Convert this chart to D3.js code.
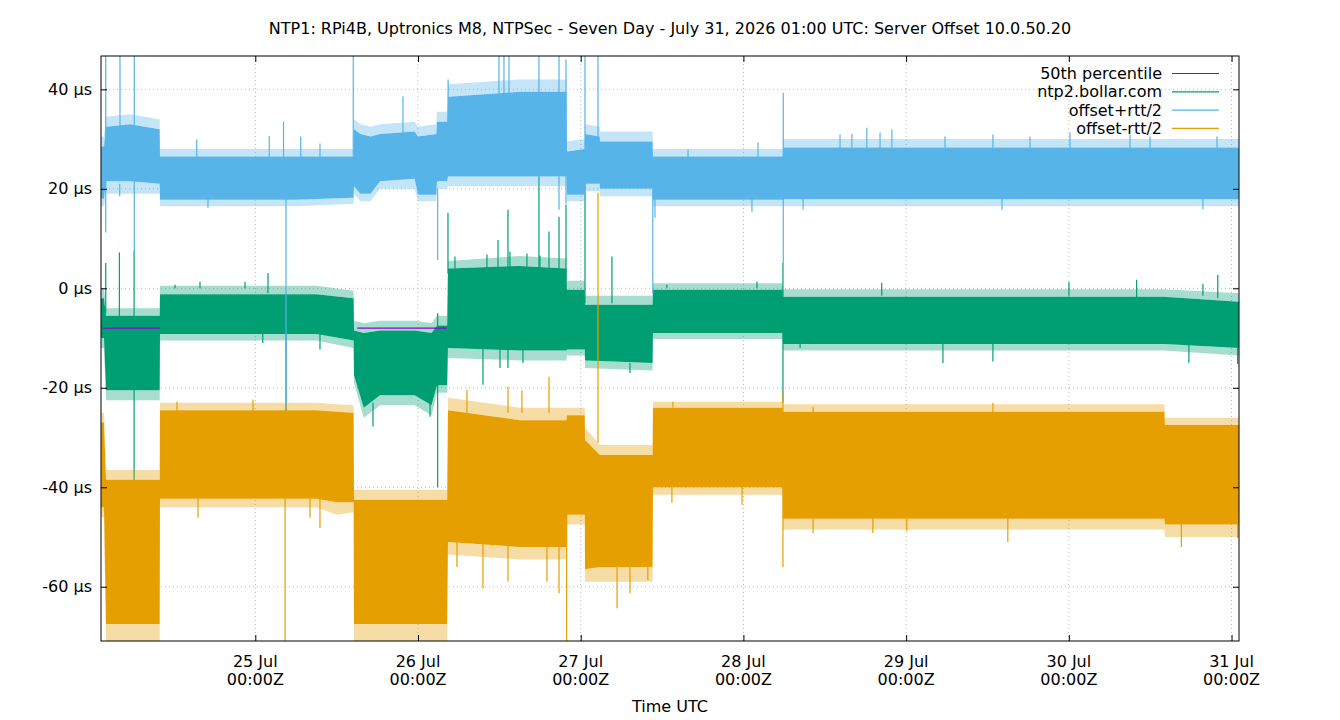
<!DOCTYPE html>
<html>
<head>
<meta charset="utf-8">
<script src="https://cdnjs.cloudflare.com/ajax/libs/d3/7.8.5/d3.min.js"></script>
<style>
  body { margin: 0; background: #fff; }
  svg { font-family: "DejaVu Sans", sans-serif; font-size: 16px; }
</style>
</head>
<body>
<script>
// times are hours after 24 Jul 2026 00:00 UTC
var startHour = 1.24, endHour = 169.1;
var yMin = -70.9, yMax = 46.7;
var yTicks = [-60, -40, -20, 0, 20, 40];
var titleText = "NTP1: RPi4B, Uptronics M8, NTPSec - Seven Day - July 31, 2026 01:00 UTC: Server Offset 10.0.50.20";
var seriesNames = ["50th percentile", "ntp2.bollar.com", "offset+rtt/2", "offset-rtt/2"];
var seriesColors = ["#9400d3", "#009e73", "#56b4e9", "#e69f00"];

// 50th percentile (only present in two stretches)
var pct50 = [[1.55, -8], [9.94, -8], [9.95, null], [39.0, null], [39.05, -8], [52.27, -8]];

// noisy series read as envelopes: [hour, outer low, low, high, outer high] in µs
var ntp2Band = [
  [1.24, -12, -10, -2, 0], [1.68, -12, -10, -2, 0],
  [1.98, -22.5, -20.5, -5.5, -4], [9.9, -22.5, -20.5, -5.5, -4],
  [9.94, -10.5, -9.2, -1.2, 0.5], [33, -10.5, -9.2, -1.2, 0.5], [38.5, -12, -10.5, -2, -0.5],
  [38.56, -19, -17.5, -8.5, -6.5], [40, -26, -24, -9, -7], [42.4, -23.5, -21.5, -8.5, -6.5],
  [47.5, -23.5, -21.5, -8.5, -6.5], [50, -25.5, -23.5, -9, -7],
  [50.8, -21, -19.5, -7.5, -5.5], [52.3, -21, -19.5, -7.5, -5.5],
  [52.42, -14, -12, 4, 5.5], [63, -14.5, -12.5, 4.5, 6.5], [69.9, -14.5, -12.5, 4, 6],
  [69.97, -13.5, -12.3, -0.3, 1.5], [72.6, -13.5, -12.3, -0.3, 1.5],
  [72.63, -16, -14.5, -3.3, -1.5], [82.6, -16.5, -15, -3.3, -1.5],
  [82.66, -10.2, -9, -0.3, 1], [101.8, -10.2, -9, -0.3, 1],
  [101.83, -12.5, -11.2, -1.7, -0.2], [158, -12.5, -11.2, -1.7, -0.2], [169.1, -13.5, -12, -2.7, -1]
];
var plusBand = [
  [1.24, 16.5, 18, 28.5, 30.5], [1.68, 16.5, 18, 28.5, 30.5],
  [1.98, 19, 21.5, 32.5, 34.5], [5.5, 19, 21.5, 33, 35], [9.9, 19, 21, 32, 34],
  [9.94, 16.5, 17.8, 26.5, 28], [20, 16.5, 17.8, 26.5, 28], [30, 16.5, 17.8, 26.5, 28], [38.5, 17, 18.2, 26.5, 28],
  [38.56, 19, 20.5, 32, 34], [39.5, 17.5, 19, 31, 33], [41, 17.5, 19, 30.5, 32.5],
  [42.4, 20, 21.5, 31, 33], [47.5, 20, 22, 31.5, 33.5], [48.0, 17.5, 18.8, 30.5, 32.5],
  [50.7, 17.5, 18.8, 31, 33], [50.8, 20, 21.5, 33.5, 35.5], [52.3, 20, 21.5, 33.5, 35.5],
  [52.42, 20.5, 22.5, 38.5, 41], [63, 20.5, 22.5, 39.5, 42], [69.9, 20.5, 22.5, 39.5, 42],
  [69.97, 17.5, 18.8, 27.5, 29.5], [72.6, 17.5, 18.8, 28, 30],
  [72.63, 19.5, 21, 31, 33], [74.8, 19.5, 21, 30.5, 32.5],
  [74.84, 18.5, 20, 29.5, 31.5], [82.6, 18.5, 20, 29.5, 31.5],
  [82.66, 16.5, 17.8, 26.5, 28], [101.8, 16.5, 17.8, 26.5, 28],
  [101.83, 16.5, 17.9, 28.3, 30], [169.1, 16.5, 17.9, 28.3, 30]
];
var minusBand = [
  [1.24, -46, -44, -27, -25], [1.68, -46, -44, -27, -25],
  [1.98, -70.9, -67.5, -38.5, -36.5], [9.9, -70.9, -67.5, -38.5, -36.5],
  [9.94, -44, -42.3, -24.5, -23], [33, -44, -42.3, -24.5, -23], [36, -45.5, -43, -24.8, -23.3], [38.5, -45, -43, -25, -23.5],
  [38.56, -70.9, -67.5, -42.5, -40.5], [52.3, -70.9, -67.5, -42.5, -40.5],
  [52.42, -53.5, -51, -24.5, -22], [63, -54.5, -52, -26.5, -24], [69.9, -54.5, -52, -26.5, -24],
  [69.97, -47.5, -45.5, -25.5, -24], [72.6, -47.5, -45.5, -25.5, -24],
  [72.63, -59, -56.5, -30.5, -28], [74.84, -59, -56, -33.5, -31.5], [82.6, -59, -56, -33.5, -31.5],
  [82.66, -41.5, -40, -24, -22.8], [101.8, -41.5, -40, -24, -22.8],
  [101.83, -48.5, -46.3, -24.8, -23.3], [158.1, -48.5, -46.3, -24.8, -23.3],
  [158.17, -50, -47.5, -27.5, -26], [169.1, -50, -47.5, -27.5, -26]
];

// single outliers: [hour, from, to] in µs
var ntp2Spikes = [
  [1.94, -5, 5.1], [3.95, -8, 7.2], [6.12, -40, 7.5], [12.16, 0, 0.7], [15.84, 0, 1.3], [22.48, 0, 1.3],
  [25.1, -9, -11], [25.87, -1, 3.1], [28.53, -27, -5], [33.54, -9, -12.3],
  [41.36, -23, -27.8], [49.77, -22, -25.8], [50.9, -40, -5], [52.42, 3, 15.2],
  [53.45, 4, 6.4], [57.58, -19.4, -10], [58.17, 4, 6.8], [59.8, 4, 9.7], [60.09, -12, -16],
  [61.27, -16, 15.8], [61.56, 4, 7.4], [63.48, -12, -15], [64.07, 4, 7], [65.84, 4, 23.3],
  [65.99, 4, 6.6], [67.32, 4, 11.4], [68.8, 4, 14.4], [69.83, 2, 16.8], [72.63, -3, 21.5],
  [76.61, -3, 6.4], [79.27, -15, -17], [84.72, 0, 0.7], [98.0, 0, 1.3],
  [101.83, -23, 5.1], [104.36, -11, -12], [116.4, -1.5, 1.1], [125.43, -11, -15],
  [132.8, -11, -14.7], [144.02, -1.5, 1.3], [154.0, -2, 1.7], [161.71, -11, -15],
  [163.78, -1.5, 0.9], [165.97, -2, 2.7], [168.9, -12, -15.2]
];
var plusSpikes = [
  [1.94, 11.2, 46.7], [4.0, 21, 18.5], [4.04, 28, 46.7], [6.15, 7.5, 46.7], [15.36, 26, 29.9],
  [17.02, 18, 16.2], [26.06, 26, 30.6], [28.16, 18, 33.5], [28.53, -27, 20], [30.7, 26, 30.5],
  [33.54, 26, 29.1], [38.45, 26, 46.7], [45.78, 28, 38.6], [50.9, 5.7, 20], [52.44, 30, 42],
  [59.94, 30, 46.7], [60.68, 30, 46.7], [61.42, 30, 46.7], [65.84, 35, 46.7], [68.8, 15.8, 46.7],
  [69.83, 17, 46], [72.63, 25, 46.7], [74.55, 25, 46.7], [82.63, -1, 20], [82.95, 18, 14.2],
  [87.83, 26, 27.9], [97.26, 18, 15.4], [98.15, 26, 29.3], [101.88, 5, 39.3], [104.8, 18, 15.8],
  [110.25, 28, 30.9], [112.0, 28, 31], [114.2, 28, 32.3], [116.15, 28, 31.3], [117.9, 28, 31.9],
  [125.73, 28, 30.5], [132.8, 28, 30.9], [134.14, 18, 15.8], [138.27, 28, 30.5], [144.17, 28, 31.3],
  [153.02, 28, 30.9], [155.97, 28, 30.5], [163.78, 18, 15.9], [165.85, 28, 30.5]
];
var minusSpikes = [
  [12.45, -25, -22.8], [15.55, -42, -46.1], [23.66, -25, -22.4], [28.39, -70.9, -40],
  [32.07, -42, -46.1], [33.54, -42, -48.2], [53.75, -50, -56], [55.22, -25, -20.4],
  [57.58, -60.3, -48], [61.27, -25, -19.8], [61.27, -50, -59], [63.33, -25, -20.5],
  [67.02, -50, -59], [67.32, -25, -17.8], [68.8, -61.3, -50], [69.93, -70.9, -45],
  [74.55, -31, 19.2], [77.36, -64.3, -55], [79.27, -55, -61.3], [81.9, -58.7, -50],
  [85.45, -40, -43.1], [85.6, -24, -22.8], [95.8, -40, -43.5], [101.83, -56, -21],
  [106.28, -25, -23.8], [106.28, -46, -49.2], [115.1, -46, -49.2], [120.1, -46, -48.8],
  [132.8, -25, -23], [135.0, -46, -51], [160.6, -52, -46], [168.9, -47, -50.2]
];

var margin = {top: 56, right: 101, bottom: 79, left: 101},
    width = 1340 - margin.left - margin.right,
    height = 720 - margin.top - margin.bottom;

function hourDate(h) { return new Date(Date.UTC(2026, 6, 24) + h * 3600e3); }

var x = d3.scaleUtc().domain([hourDate(startHour), hourDate(endHour)]).range([0, width]);
var y = d3.scaleLinear().domain([yMin, yMax]).range([height, 0]);
var dayTicks = x.ticks(d3.utcDay.every(1));

var svg = d3.select("body").append("svg")
    .attr("width", 1340)
    .attr("height", 720);

svg.append("text")
    .attr("x", 670).attr("y", 34)
    .attr("text-anchor", "middle")
    .text(titleText);

var g = svg.append("g")
    .attr("transform", "translate(" + margin.left + "," + margin.top + ")");

g.append("clipPath").attr("id", "plot")
  .append("rect").attr("width", width).attr("height", height);

// dotted grid
g.selectAll(".vgrid").data(dayTicks).enter().append("line")
    .attr("x1", function(d) { return x(d); }).attr("x2", function(d) { return x(d); })
    .attr("y1", 0).attr("y2", height)
    .attr("stroke", "#b8b8b8").attr("stroke-dasharray", "1,3");
g.selectAll(".hgrid").data(yTicks).enter().append("line")
    .attr("x1", 0).attr("x2", width)
    .attr("y1", function(d) { return y(d); }).attr("y2", function(d) { return y(d); })
    .attr("stroke", "#b8b8b8").attr("stroke-dasharray", "1,3");

var plot = g.append("g").attr("clip-path", "url(#plot)");

function drawSeries(band, spikes, color) {
  var xs = function(d) { return x(hourDate(d[0])); };
  plot.append("path").datum(band)
      .attr("fill", color).attr("opacity", 0.35)
      .attr("d", d3.area().x(xs).y0(function(d) { return y(d[1]); }).y1(function(d) { return y(d[2]); }));
  plot.append("path").datum(band)
      .attr("fill", color).attr("opacity", 0.35)
      .attr("d", d3.area().x(xs).y0(function(d) { return y(d[3]); }).y1(function(d) { return y(d[4]); }));
  plot.append("path").datum(band)
      .attr("fill", color)
      .attr("d", d3.area().x(xs).y0(function(d) { return y(d[2]); }).y1(function(d) { return y(d[3]); }));
  plot.selectAll(null).data(spikes).enter().append("line")
      .attr("x1", xs).attr("x2", xs)
      .attr("y1", function(d) { return y(d[1]); })
      .attr("y2", function(d) { return y(d[2]); })
      .attr("stroke", color).attr("stroke-width", 1.2);
}

drawSeries(ntp2Band, ntp2Spikes, seriesColors[1]);

plot.append("path").datum(pct50)
    .attr("fill", "none").attr("stroke", seriesColors[0]).attr("stroke-width", 1.2)
    .attr("d", d3.line()
      .defined(function(d) { return d[1] !== null; })
      .x(function(d) { return x(hourDate(d[0])); })
      .y(function(d) { return y(d[1]); }));

drawSeries(plusBand, plusSpikes, seriesColors[2]);
drawSeries(minusBand, minusSpikes, seriesColors[3]);

// axes, ticks mirrored on all four sides
var axes = [
  g.append("g").attr("transform", "translate(0," + height + ")").call(d3.axisBottom(x).tickValues(dayTicks).tickSize(-6).tickFormat("")),
  g.append("g").call(d3.axisTop(x).tickValues(dayTicks).tickSize(-6).tickFormat("")),
  g.append("g").call(d3.axisLeft(y).tickValues(yTicks).tickSize(-6).tickPadding(9).tickFormat(function(d) { return d + " µs"; })),
  g.append("g").attr("transform", "translate(" + width + ",0)").call(d3.axisRight(y).tickValues(yTicks).tickSize(-6).tickFormat(""))
];
axes.forEach(function(a) {
  a.select(".domain").remove();
  a.selectAll("line").attr("stroke", "#000");
  a.selectAll("text").attr("font-size", 16).attr("font-family", "DejaVu Sans, sans-serif").attr("fill", "#000");
});

g.append("rect")
    .attr("width", width).attr("height", height)
    .attr("fill", "none").attr("stroke", "#000");

// two-line date labels
var fmtDay = d3.utcFormat("%d %b"), fmtTime = d3.utcFormat("%H:%MZ");
var xl = g.selectAll(".xl").data(dayTicks).enter().append("text")
    .attr("text-anchor", "middle")
    .attr("transform", function(d) { return "translate(" + x(d) + "," + height + ")"; });
xl.append("tspan").attr("x", 0).attr("y", 26).text(fmtDay);
xl.append("tspan").attr("x", 0).attr("y", 44).text(fmtTime);

svg.append("text")
    .attr("x", 670).attr("y", 712)
    .attr("text-anchor", "middle")
    .text("Time UTC");

// legend
var legend = svg.append("g").selectAll("g").data(seriesNames).enter().append("g")
    .attr("transform", function(d, i) { return "translate(0," + (73.5 + i * 18.3) + ")"; });
legend.append("text")
    .attr("x", 1162).attr("y", 5.5)
    .attr("text-anchor", "end")
    .text(function(d) { return d; });
legend.append("line")
    .attr("x1", 1172).attr("x2", 1219)
    .attr("stroke", function(d, i) { return seriesColors[i]; })
    .attr("stroke-width", 1.2);
</script>
</body>
</html>
